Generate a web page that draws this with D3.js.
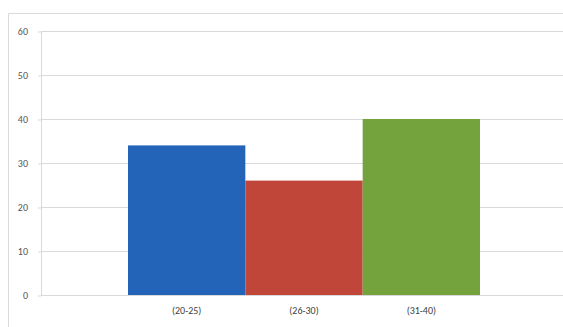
<!DOCTYPE html>
<html><head><meta charset="utf-8">
<script src="https://cdn.jsdelivr.net/npm/d3@7"></script>
<style>body{margin:0;background:#fff}svg{display:block}</style>
</head><body><svg id="c" width="563" height="327"></svg>
<script>
const categories = ["(20-25)", "(26-30)", "(31-40)"];
const values = [34, 26, 40];
const colors = ["#2464b8", "#c1463a", "#74a23c"];
const yTicks = [0, 10, 20, 30, 40, 50, 60];

const svg = d3.select("#c");
// outer chart border
svg.append("path").attr("d", "M8.5,340V13.5H580").attr("fill", "none").attr("stroke", "#d9d9d9").attr("stroke-width", 1);

const y = d3.scaleLinear().domain([0, 60]).range([295, 31]);
const x = d3.scaleBand().domain(categories).range([128, 480]).padding(0);
const plotL = 41, plotR = 570;

const g = svg.append("g");
g.selectAll("line.grid").data(yTicks).join("line")
  .attr("x1", plotL).attr("x2", plotR)
  .attr("y1", d => Math.round(y(d)) + 0.5).attr("y2", d => Math.round(y(d)) + 0.5)
  .attr("stroke", "#d9d9d9").attr("stroke-width", 1);

// vertical axis line
g.append("line").attr("x1", plotL + 0.5).attr("x2", plotL + 0.5).attr("y1", y(60)).attr("y2", y(0) + 0.5)
  .attr("stroke", "#d9d9d9");

const yAxis = d3.axisLeft(y).tickValues(yTicks).tickSize(3).tickPadding(10);
const ya = svg.append("g").attr("transform", `translate(${plotL},0.5)`).call(yAxis);
ya.select(".domain").remove();
ya.selectAll(".tick line").attr("stroke", "#d9d9d9");
ya.selectAll(".tick text").attr("fill", "#555").attr("font-family", "Calibri, Carlito, 'Liberation Sans', sans-serif").attr("font-size", 10);

svg.selectAll("rect.bar").data(values).join("rect")
  .attr("x", (d, i) => x(categories[i]))
  .attr("width", x.bandwidth())
  .attr("y", d => y(d))
  .attr("height", d => y(0) - y(d))
  .attr("fill", (d, i) => colors[i]);

const xAxis = d3.axisBottom(x).tickSize(0).tickPadding(12);
const xa = svg.append("g").attr("transform", `translate(0,${y(0)})`).call(xAxis);
xa.select(".domain").remove();
xa.selectAll(".tick text").attr("fill", "#404040").attr("font-family", "Calibri, Carlito, 'Liberation Sans', sans-serif").attr("font-size", 10);
</script></body></html>
